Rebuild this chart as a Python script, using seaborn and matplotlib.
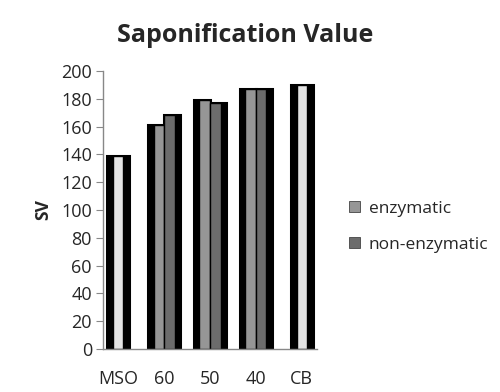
import pandas as pd
import seaborn as sns
import matplotlib.pyplot as plt
from matplotlib.patches import Patch

# Category order on the x axis
categories = ['MSO', '60', '50', '40', 'CB']

# Reference samples (single bar each)
ref_samples = ['MSO', 'CB']
ref_values = [139, 190]

# Blends: enzymatic vs non-enzymatic
blend_samples = ['60', '50', '40']
enzymatic = [161, 179, 187]
non_enzymatic = [168, 177, 187]

df_ref = pd.DataFrame({'sample': ref_samples, 'SV': ref_values})
df_blend = pd.DataFrame({
    'sample': blend_samples * 2,
    'SV': enzymatic + non_enzymatic,
    'process': ['enzymatic'] * 3 + ['non-enzymatic'] * 3,
})

sns.set_style('white')
plt.rcParams['font.family'] = ['Open Sans', 'DejaVu Sans']

fig = plt.figure(figsize=(5, 3.92), dpi=100)
ax = fig.add_axes([0.206, 0.110, 0.428, 0.709])

# Reference bars: black frame bar, then lighter inner bar
sns.barplot(data=df_ref, x='sample', y='SV', order=categories, color='black',
            saturation=1, width=0.48, linewidth=2.2, edgecolor='black',
            errorbar=None, ax=ax)
sns.barplot(data=df_ref, x='sample', y='SV', order=categories, color='#e4e4e4',
            saturation=1, width=0.22, linewidth=1.0, edgecolor='black',
            errorbar=None, ax=ax)

# Blend bars: black frames, then gray inner bars side by side
colors = ['#969696', '#6c6c6c']
sns.barplot(data=df_blend, x='sample', y='SV', hue='process', order=categories,
            palette=['black', 'black'], saturation=1, width=0.70, linewidth=2.2,
            edgecolor='black', errorbar=None, legend=False, ax=ax)
sns.barplot(data=df_blend, x='sample', y='SV', hue='process', order=categories,
            palette=colors, saturation=1, width=0.46, linewidth=1.0,
            edgecolor='black', errorbar=None, legend=False, ax=ax)

ax.set_xlim(-0.33, 4.33)
ax.set_ylim(0, 200)
ax.set_yticks(range(0, 201, 20))
ax.tick_params(axis='y', length=5, color='#888888', labelsize=13, pad=3, left=True)
ax.tick_params(axis='x', length=0, labelsize=13, pad=15)
for s in ['top', 'right']:
    ax.spines[s].set_visible(False)
for s in ['left', 'bottom']:
    ax.spines[s].set_color('#888888')
    ax.spines[s].set_linewidth(1)

ax.set_xlabel('')
ax.set_ylabel('SV', fontsize=12.5, fontweight='bold', labelpad=6)

fig.text(0.49, 0.91, 'Saponification Value', ha='center', va='center',
         fontsize=18, fontweight='bold')

handles = [Patch(facecolor=c, edgecolor='#444444', linewidth=0.6) for c in colors]
ax.legend(handles, ['enzymatic', 'non-enzymatic'], loc='center left',
          bbox_to_anchor=(1.075, 0.44), frameon=False, fontsize=12.5,
          handlelength=0.65, handleheight=0.65, handletextpad=0.5, labelspacing=1.15)

fig.savefig('out.png', dpi=100)
